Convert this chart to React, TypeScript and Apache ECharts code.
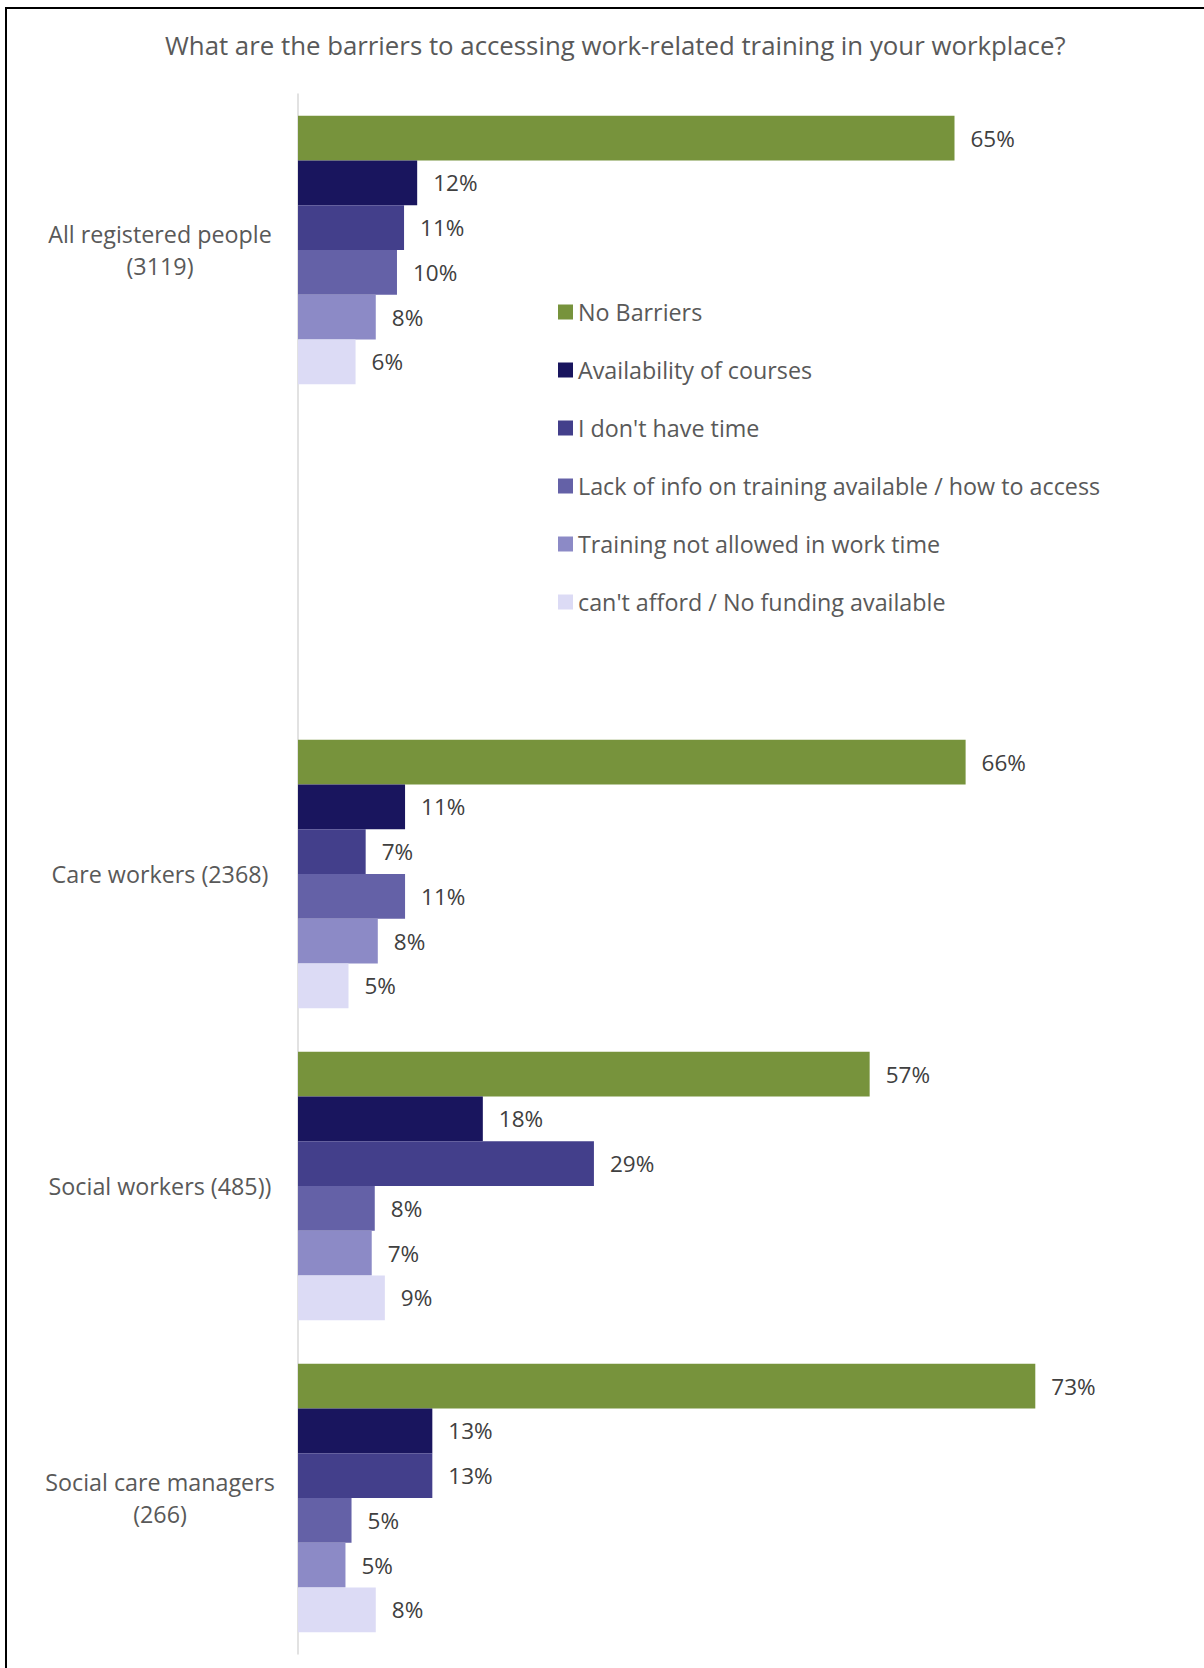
import React, { useEffect, useRef } from "react";
import * as echarts from "echarts";

const categories = [
  "All registered people\n(3119)",
  "",
  "Care workers (2368)",
  "Social workers (485))",
  "Social care managers\n(266)",
];

const seriesNames = [
  "No Barriers",
  "Availability of courses",
  "I don't have time",
  "Lack of info on training available / how to access",
  "Training not allowed in work time",
  "can't afford / No funding available",
];

const noBarriers = [65.0, null, 66.1, 56.6, 73.0];
const availability = [11.8, null, 10.6, 18.3, 13.3];
const noTime = [10.5, null, 6.7, 29.3, 13.3];
const lackInfo = [9.8, null, 10.6, 7.6, 5.3];
const notAllowed = [7.7, null, 7.9, 7.3, 4.7];
const cantAfford = [5.7, null, 5.0, 8.6, 7.7];

const seriesValues = [noBarriers, availability, noTime, lackInfo, notAllowed, cantAfford];
const colors = ["#77933C", "#19155E", "#433F8B", "#6461A7", "#8C8AC6", "#DCDBF5"];

const FONT = "Open Sans";

export default function App() {
  const ref = useRef<HTMLDivElement>(null);
  useEffect(() => {
    document.body.style.margin = "0";
    const chart = echarts.init(ref.current!, null, { renderer: "svg" });
    chart.setOption({
      animation: false,
      backgroundColor: "#ffffff",
      title: {
        text: "What are the barriers to accessing work-related training in your workplace?",
        left: 160,
        top: 27,
        textStyle: { fontFamily: FONT, fontSize: 25.8, fontWeight: "normal", color: "#595959" },
      },
      legend: {
        orient: "vertical",
        left: 553,
        top: 295,
        itemWidth: 15,
        itemHeight: 15,
        itemGap: 34,
        icon: "rect",
        data: seriesNames,
        textStyle: { fontFamily: FONT, fontSize: 23.3, color: "#595959", lineHeight: 24 },
      },
      grid: { left: 298, top: 94, right: 98, bottom: 14, containLabel: false },
      xAxis: {
        type: "value",
        min: 0,
        max: 80,
        show: false,
      },
      yAxis: {
        type: "category",
        inverse: true,
        data: categories,
        axisLine: { show: true, lineStyle: { color: "#D9D9D9", width: 1.5 } },
        axisTick: { show: false },
        axisLabel: {
          align: "center",
          margin: 138,
          fontFamily: FONT,
          fontSize: 23.3,
          lineHeight: 32,
          color: "#595959",
        },
      },
      graphic: [
        {
          type: "polyline",
          shape: { points: [[6, 1668], [6, 8], [1204, 8]] },
          style: { stroke: "#000000", lineWidth: 2, fill: null },
        },
      ],
      series: seriesNames.map((name, i) => ({
        name,
        type: "bar",
        data: seriesValues[i],
        barGap: "0%",
        barCategoryGap: "14%",
        itemStyle: { color: colors[i] },
        label: {
          show: true,
          position: "right",
          distance: 16,
          fontFamily: FONT,
          fontSize: 22.5,
          color: "#404040",
          formatter: (p: any) => Math.round(p.value) + "%",
        },
      })),
    });
    return () => chart.dispose();
  }, []);
  return <div ref={ref} style={{ width: 1204, height: 1668 }} />;
}
